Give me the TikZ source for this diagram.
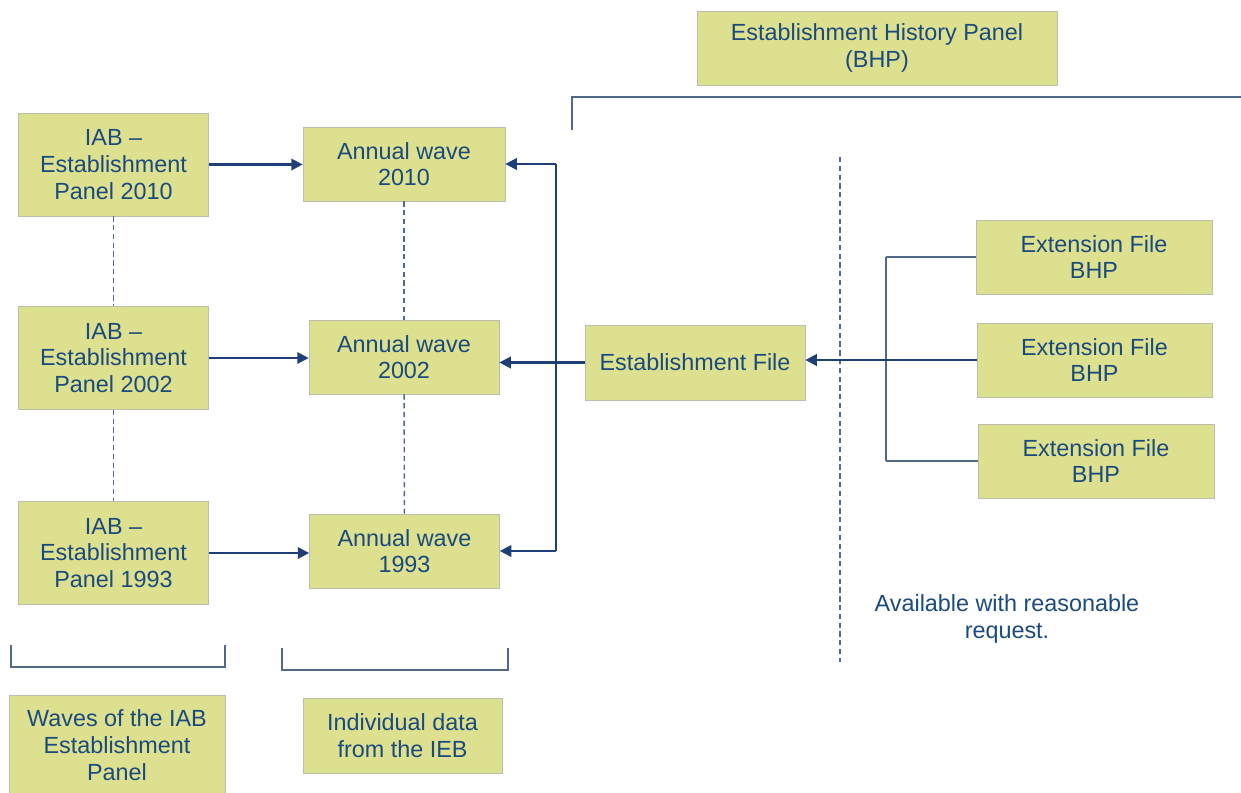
\documentclass[tikz,border=0pt]{standalone}
\usepackage{fontspec}
\setmainfont{Liberation Sans}
\definecolor{IABfill}{HTML}{DDE08F}
\definecolor{IABline}{HTML}{BDBDAE}
\definecolor{IABblue}{HTML}{1A4A7E}
\definecolor{IABarrow}{HTML}{1F3F78}
\definecolor{IABgray}{HTML}{52698A}
\usetikzlibrary{arrows.meta}

\begin{document}
\begin{tikzpicture}[x=0.02cm,y=-0.02cm,
    panelbox/.style={draw=IABline,fill=IABfill,text=IABblue,align=center,inner sep=0pt,
      font=\fontsize{13.3}{15.2}\selectfont},
    feed/.style={draw=IABarrow,line width=1.3pt,-{Triangle[length=6.5pt,width=6.5pt]}},
    bracket/.style={draw=IABgray,line width=1.2pt},
    gap/.style={draw=IABgray,dash pattern=on 3pt off 2pt,line width=0.8pt}]
  \useasboundingbox (0,0) rectangle (1241,792);
  % left column: waves of the IAB Establishment Panel
  \foreach \yr/\yy in {2010/164.5,2002/358,1993/553}
    \node[panelbox,minimum width=3.8cm,minimum height=2.06cm] (iab\yr) at (113.5,\yy) {IAB --\\Establishment\\Panel \yr};
  % middle column: annual waves
  \node[panelbox,minimum width=4.04cm,minimum height=1.48cm] (wave2010) at (404,164) {Annual wave\\2010};
  \node[panelbox,minimum width=3.8cm,minimum height=1.48cm] (wave2002) at (404,357) {Annual wave\\2002};
  \node[panelbox,minimum width=3.8cm,minimum height=1.48cm] (wave1993) at (404.5,551) {Annual wave\\1993};
  % BHP
  \node[panelbox,minimum width=4.4cm,minimum height=1.5cm] (estfile) at (695,362.5) {Establishment File};
  \node[panelbox,minimum width=7.2cm,minimum height=1.48cm] (bhp) at (877,48) {Establishment History Panel\\(BHP)};
  \node[panelbox,minimum width=4.72cm,minimum height=1.48cm] (ext1) at (1094,257) {Extension File\\BHP};
  \node[panelbox,minimum width=4.7cm,minimum height=1.48cm] (ext2) at (1094.5,360) {Extension File\\BHP};
  \node[panelbox,minimum width=4.72cm,minimum height=1.48cm] (ext3) at (1096,461) {Extension File\\BHP};
  % captions
  \node[panelbox,minimum width=4.32cm,minimum height=2cm] (wavescap) at (117,745) {Waves of the IAB\\Establishment\\Panel};
  \node[panelbox,minimum width=3.98cm,minimum height=1.5cm] (iebcap) at (402.5,735.5) {Individual data\\from the IEB};
  \node[text=IABblue,align=center,font=\fontsize{13.3}{15.2}\selectfont] (avail) at (1007,619) {Available with reasonable\\request.};

  % dashed gaps between the years
  \draw[gap] (iab2010) -- (iab2002);
  \draw[gap] (iab2002) -- (iab1993);
  \draw[gap] (wave2010) -- (wave2002);
  \draw[gap] (wave2002) -- (wave1993);
  \coordinate (divtop) at (840,157);
  \coordinate (divbot) at (840,662);
  \draw[gap] (divtop) -- (divbot);

  % panel to wave
  \foreach \yr in {2010,2002,1993}
    \draw[feed] (iab\yr.east) -- (wave\yr.west |- iab\yr.east);

  % establishment file to waves
  \coordinate (spine) at (556,362.5);
  \draw[feed] (estfile.west) -- (wave2002.east |- estfile.west);
  \draw[draw=IABarrow,line width=1.3pt] (spine |- wave2010) -- (spine |- wave1993);
  \draw[feed] (spine |- wave2010) -- (wave2010.east);
  \draw[feed] (spine |- wave1993) -- (wave1993.east);

  % extension files
  \coordinate (fork) at (886,360);
  \draw[bracket] (fork |- ext1) -- (fork |- ext3.west);
  \foreach \e in {ext1,ext2,ext3}
    \draw[bracket] (fork |- \e.west) -- (\e.west);
  \draw[feed] (ext2.west) -- (estfile.east |- ext2.west);

  % brackets
  \coordinate (bhpl) at (572,130);
  \coordinate (bhpr) at (1245,97);
  \draw[bracket] (bhpl) |- (bhpr);
  \coordinate (wl) at (11,645);
  \coordinate (wr) at (225,645);
  \draw[bracket] (wl) -- ++(0,22) -| (wr);
  \coordinate (il) at (282,648);
  \coordinate (ir) at (508,648);
  \draw[bracket] (il) -- ++(0,22) -| (ir);
\end{tikzpicture}
\end{document}
